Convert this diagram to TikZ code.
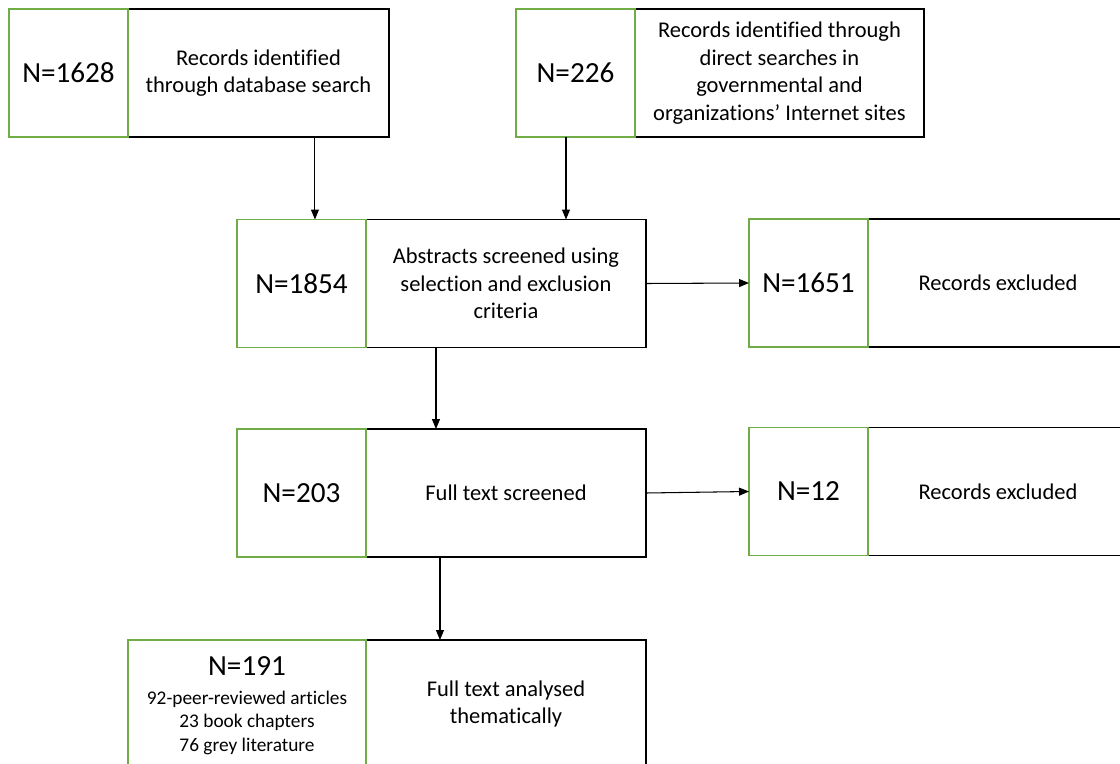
\documentclass[tikz,border=0pt]{standalone}
\usepackage{fontspec}
\setmainfont{Carlito}[Ligatures=NoCommon]
\usetikzlibrary{positioning,arrows.meta}
\definecolor{boxgreen}{RGB}{112,173,71}
\newcommand\breakdown{\fontsize{11}{13.6}\selectfont}
\newcommand\bignum{\fontsize{16.6}{20}\selectfont}

\begin{document}
\begin{tikzpicture}[x=0.02cm,y=-0.02cm,
  numbox/.style={outer sep=0pt,align=center,
    minimum width=2.38cm,minimum height=2.56cm,font=\bignum},
  txtbox/.style={draw=black,line width=0.9pt,outer sep=0pt,align=center,
    minimum height=2.56cm,font=\fontsize{12.8}{15.7}\selectfont},
  greenline/.style={draw=boxgreen,line width=0.8pt},
  arr/.style={line width=0.6pt,-{Triangle[length=2mm,width=1.6mm]}}]
\useasboundingbox (0,0) rectangle (1120,764);
\clip (0,0) rectangle (1120,764);

% top row
\node[numbox] (n1628) at (68.5,73) {N=1628};
\node[txtbox,minimum width=5.22cm,right=0pt of n1628] (db) {Records identified\\through database search};

\node[numbox] (n226) at (575.5,73) {N=226};
\node[txtbox,minimum width=5.78cm,right=0pt of n226] (web) {Records identified through\\direct searches in\\governmental and\\organizations’ Internet sites};

% screening
\node[numbox,minimum width=2.58cm] (n1854) at (301.5,283.5) {N=1854};
\node[txtbox,minimum width=5.6cm,right=0pt of n1854] (abs) {Abstracts screened using\\selection and exclusion\\criteria};

\node[numbox] (n1651) at (808.5,283) {N=1651};
\node[txtbox,minimum width=5.2cm,right=0pt of n1651] (exc1) {Records excluded};

% full text
\node[numbox,minimum width=2.58cm] (n203) at (301.5,493) {N=203};
\node[txtbox,minimum width=5.6cm,right=0pt of n203] (fts) {Full text screened};

\node[numbox] (n12) at (808.5,491.5) {N=12};
\node[txtbox,minimum width=5.2cm,right=0pt of n12] (exc2) {Records excluded};

% included
\node[numbox,minimum width=4.76cm,font=\breakdown] (n191) at (247,706) {\bignum N=191\\[2.5pt]
  92-peer-reviewed articles\\23 book chapters\\76 grey literature};
\node[txtbox,minimum width=5.6cm] (fta) at (506,704) {Full text analysed\\thematically};

% green frames on top
\foreach \n in {n1628,n226,n1854,n1651,n203,n12}
  \draw[greenline] (\n.south west) rectangle (\n.north east);
\draw[greenline] (n191.west |- fta.south) rectangle (n191.east |- fta.north);

% arrows
\coordinate (a1) at ([xshift=1.13cm]db.south);
\coordinate (a2) at ([xshift=-0.19cm]n226.south);
\coordinate (a3) at ([xshift=-1.4cm]abs.south);
\coordinate (a4) at ([xshift=-1.32cm]fts.south);
\draw[arr] (a1) -- (a1 |- n1854.north);
\draw[arr] (a2) -- (a2 |- abs.north);
\draw[arr] (a3) -- (a3 |- fts.north);
\draw[arr] (abs.east) -- (n1651.west);
\draw[arr] (fts.east) -- (n12.west);
\draw[arr] (a4) -- (a4 |- fta.north);
\end{tikzpicture}
\end{document}
